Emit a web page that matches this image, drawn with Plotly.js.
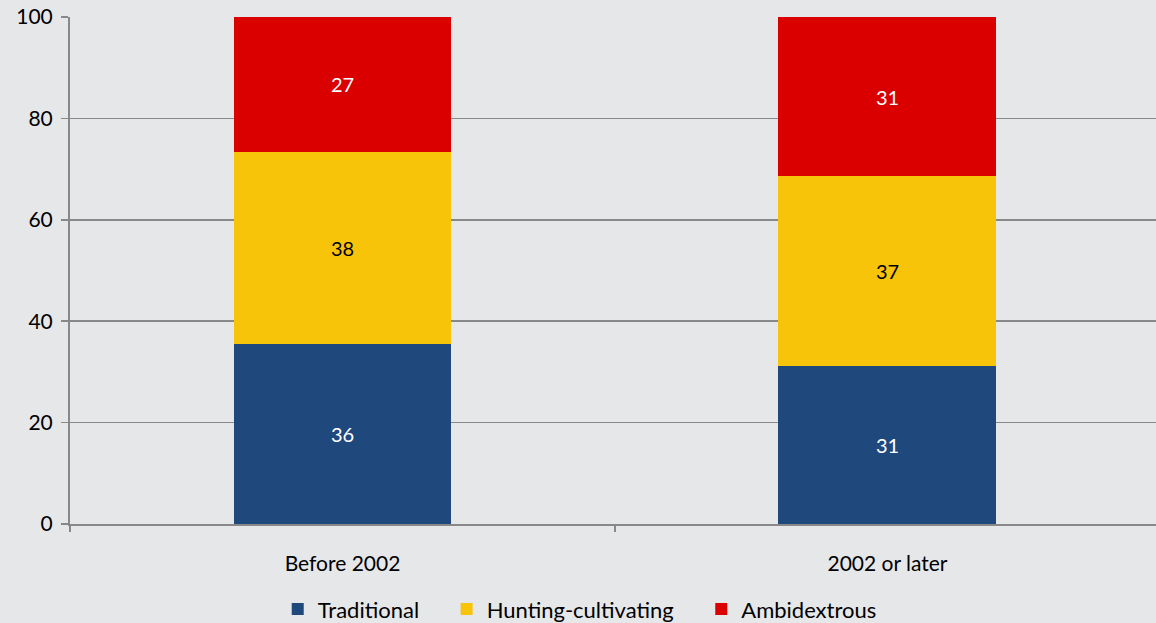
<!DOCTYPE html>
<html>
<head>
<meta charset="utf-8">
<script src="https://cdn.plot.ly/plotly-3.0.1.min.js"></script>
<style>html,body{margin:0;padding:0;background:#E6E7E9;}#chart{width:1156px;height:623px;}</style>
</head>
<body>
<div id="chart"></div>
<script>
const categories = ["Before 2002", "2002 or later"];
const traditional = [35.6, 31.2];
const huntingCultivating = [37.8, 37.4];
const ambidextrous = [26.6, 31.4];
const seriesNames = ["Traditional", "Hunting-cultivating", "Ambidextrous"];
const yTicks = [0, 20, 40, 60, 80, 100];

const font = "Lato, 'Open Sans', sans-serif";
const pad = "\u00A0\u00A0\u00A0\u00A0";
function mk(name, vals, color, textColor) {
  return {
    type: "bar", name: name, x: categories, y: vals,
    marker: {color: color, line: {width: 0}},
    texttemplate: "%{y:.0f}", textposition: "inside", insidetextanchor: "middle",
    textangle: 0, constraintext: "none",
    textfont: {family: font, size: 20, color: textColor},
    hoverinfo: "skip"
  };
}
const data = [
  mk(seriesNames[0] + pad, traditional, "#1F497D", "#FFFFFF"),
  mk(seriesNames[1] + pad, huntingCultivating, "#F8C40A", "#000000"),
  mk(seriesNames[2], ambidextrous, "#DA0000", "#FFFFFF")
];
const layout = {
  width: 1156, height: 623,
  paper_bgcolor: "#E6E7E9", plot_bgcolor: "#E6E7E9",
  margin: {l: 70, r: 0, t: 17, b: 99},
  barmode: "stack", bargap: 0.6,
  font: {family: font, size: 21, color: "#000"},
  showlegend: true,
  legend: {orientation: "h", xref: "container", yref: "container", x: 0.5015, xanchor: "center",
           y: 0.022, yanchor: "middle", font: {family: font, size: 22, color: "#000"},
           traceorder: "normal", itemwidth: 30},
  xaxis: {type: "category", range: [-0.5, 1.4927], showgrid: false, zeroline: false,
          showline: true, linecolor: "#888888", linewidth: 2,
          ticks: "outside", tickson: "boundaries", ticklen: 6, tickcolor: "#888888", tickwidth: 1.5,
          ticklabelstandoff: 20, tickfont: {family: font, size: 21, color: "#000"}, fixedrange: true},
  yaxis: {range: [0, 100], tickvals: yTicks, showgrid: true, gridcolor: "#888888", gridwidth: 1.5,
          zeroline: false, showline: true, linecolor: "#888888", linewidth: 2,
          ticks: "outside", ticklen: 7, tickcolor: "#888888", tickwidth: 1.5,
          ticklabelstandoff: 4, tickfont: {family: font, size: 21, color: "#000"}, fixedrange: true}
};
Plotly.newPlot("chart", data, layout, {displayModeBar: false, staticPlot: true});
</script>
</body>
</html>
